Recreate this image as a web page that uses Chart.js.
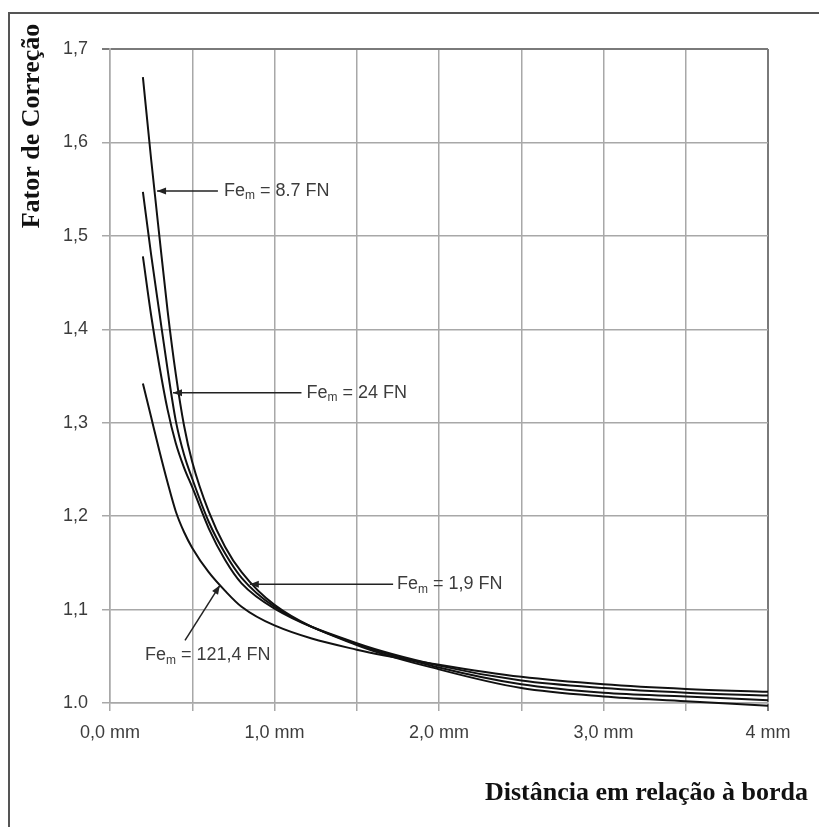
<!DOCTYPE html>
<html><head><meta charset="utf-8">
<script src="https://cdn.jsdelivr.net/npm/chart.js@4.4.0/dist/chart.umd.min.js"></script>
<style>html,body{margin:0;padding:0;background:#fff;}canvas{display:block;}</style>
</head><body>
<canvas id="c" width="819" height="827"></canvas>
<script>
// ---- data ----
const distances = [0.2,0.25,0.3,0.35,0.4,0.45,0.5,0.6,0.7,0.8,1.0,1.5,2.0,2.5,3.0,3.5,4.0];
const fe8_7   = [1.670,1.582,1.500,1.420,1.352,1.297,1.258,1.205,1.167,1.140,1.105,1.062,1.036,1.016,1.007,1.002,0.997];
const fe24    = [1.547,1.480,1.418,1.357,1.302,1.266,1.240,1.194,1.160,1.134,1.103,1.063,1.038,1.020,1.011,1.007,1.003];
const fe1_9   = [1.478,1.415,1.361,1.314,1.278,1.252,1.231,1.187,1.153,1.128,1.101,1.064,1.040,1.024,1.016,1.011,1.008];
const fe121_4 = [1.342,1.306,1.270,1.236,1.205,1.183,1.166,1.140,1.120,1.103,1.083,1.057,1.041,1.028,1.020,1.015,1.012];
const seriesNames = ['8.7 FN','24 FN','1,9 FN','121,4 FN'];
const xTickLabels = ['0,0 mm','1,0 mm','2,0 mm','3,0 mm','4 mm'];
const yTickLabels = ['1.0','1,1','1,2','1,3','1,4','1,5','1,6','1,7'];
const xTitle = 'Distância em relação à borda';
const yTitle = 'Fator de Correção';

// label call-outs, in data units
const callouts = [
  {text:'8.7 FN',   textAt:[0.693,1.548], from:[0.656,1.548], to:[0.286,1.548]},
  {text:'24 FN',    textAt:[1.195,1.332], from:[1.164,1.332], to:[0.383,1.332]},
  {text:'1,9 FN',   textAt:[1.744,1.127], from:[1.721,1.127], to:[0.85,1.127]},
  {text:'121,4 FN', textAt:[0.213,1.051], from:[0.456,1.067], to:[0.668,1.126]}
];

const toPts = arr => distances.map((d,i)=>({x:d,y:arr[i]}));
const allSeries = [fe8_7, fe24, fe1_9, fe121_4];

const GRID = '#a8a8a8', GRID_DARK = '#7a7a7a', TXT = '#3c3c3c';

const decor = {
  id:'decor',
  afterDatasetsDraw(chart){
    const ctx = chart.ctx, xs = chart.scales.x, ys = chart.scales.y;
    ctx.save();
    ctx.strokeStyle = '#222'; ctx.fillStyle = '#222'; ctx.lineWidth = 1.5;
    callouts.forEach(c=>{
      const x1 = xs.getPixelForValue(c.from[0]), y1 = ys.getPixelForValue(c.from[1]);
      const x2 = xs.getPixelForValue(c.to[0]),   y2 = ys.getPixelForValue(c.to[1]);
      ctx.beginPath(); ctx.moveTo(x1,y1); ctx.lineTo(x2,y2); ctx.stroke();
      const ang = Math.atan2(y2-y1, x2-x1), L = 9, W = 3.5;
      ctx.beginPath();
      ctx.moveTo(x2,y2);
      ctx.lineTo(x2 - L*Math.cos(ang) + W*Math.sin(ang), y2 - L*Math.sin(ang) - W*Math.cos(ang));
      ctx.lineTo(x2 - L*Math.cos(ang) - W*Math.sin(ang), y2 - L*Math.sin(ang) + W*Math.cos(ang));
      ctx.closePath(); ctx.fill();
      // text
      let tx = xs.getPixelForValue(c.textAt[0]); const ty = ys.getPixelForValue(c.textAt[1]);
      ctx.fillStyle = TXT; ctx.textBaseline = 'middle'; ctx.textAlign = 'left';
      ctx.font = '18px "Liberation Sans", Arial, sans-serif';
      ctx.fillText('Fe', tx, ty); tx += ctx.measureText('Fe').width;
      ctx.font = '12px "Liberation Sans", Arial, sans-serif';
      ctx.fillText('m', tx, ty+5); tx += ctx.measureText('m').width;
      ctx.font = '18px "Liberation Sans", Arial, sans-serif';
      ctx.fillText(' = ' + c.text, tx, ty);
      ctx.fillStyle = '#222';
    });
    ctx.restore();
  },
  afterDraw(chart){
    const ctx = chart.ctx;
    ctx.save();
    // outer frame (left and top)
    ctx.strokeStyle = '#555'; ctx.lineWidth = 2;
    ctx.beginPath(); ctx.moveTo(9,827); ctx.lineTo(9,13); ctx.lineTo(819,13); ctx.stroke();
    // titles
    ctx.fillStyle = '#111';
    ctx.font = 'bold 26px "Liberation Serif", "Times New Roman", serif';
    ctx.textBaseline = 'middle';
    ctx.textAlign = 'right';
    ctx.fillText(xTitle, 808, 793);
    ctx.translate(32,126); ctx.rotate(-Math.PI/2);
    ctx.textAlign = 'center';
    ctx.fillText(yTitle, 0, 0);
    ctx.restore();
  }
};

new Chart(document.getElementById('c'), {
  type:'line',
  data:{
    datasets: allSeries.map((s,i)=>({
      label: seriesNames[i],
      data: toPts(s),
      borderColor:'#111', borderWidth:2, pointRadius:0,
      fill:false, tension:0.4, cubicInterpolationMode:'monotone', clip:false
    }))
  },
  options:{
    responsive:false, animation:false, devicePixelRatio:1,
    layout:{padding:{left:0, top:49, right:51, bottom:0}},
    plugins:{legend:{display:false}, tooltip:{enabled:false}, title:{display:false}},
    scales:{
      x:{
        type:'linear', min:0, max:4,
        afterFit(s){ s.height = 124; },
        ticks:{ stepSize:0.5, autoSkip:false, maxRotation:0, padding:11, color:TXT,
          font:{family:'"Liberation Sans", Arial, sans-serif', size:18},
          callback:(v)=> Number.isInteger(v) ? xTickLabels[v] : '' },
        grid:{ color:(c)=> c.tick && c.tick.value===4 ? GRID_DARK : GRID, lineWidth:(c)=> c.tick && c.tick.value===4 ? 2 : 1.5, tickLength:8, drawTicks:true },
        border:{ color:GRID, width:1.5 }
      },
      y:{
        type:'linear', min:1.0, max:1.7,
        afterFit(s){ s.width = 110; },
        ticks:{ stepSize:0.1, padding:14, color:TXT,
          font:{family:'"Liberation Sans", Arial, sans-serif', size:18},
          callback:(v,i)=> yTickLabels[i] },
        grid:{ color:(c)=> c.index===7 ? GRID_DARK : GRID, lineWidth:(c)=> c.index===7 ? 2 : 1.5, tickLength:8, drawTicks:true },
        border:{ color:GRID, width:1.5 }
      }
    }
  },
  plugins:[decor]
});
</script>
</body></html>
